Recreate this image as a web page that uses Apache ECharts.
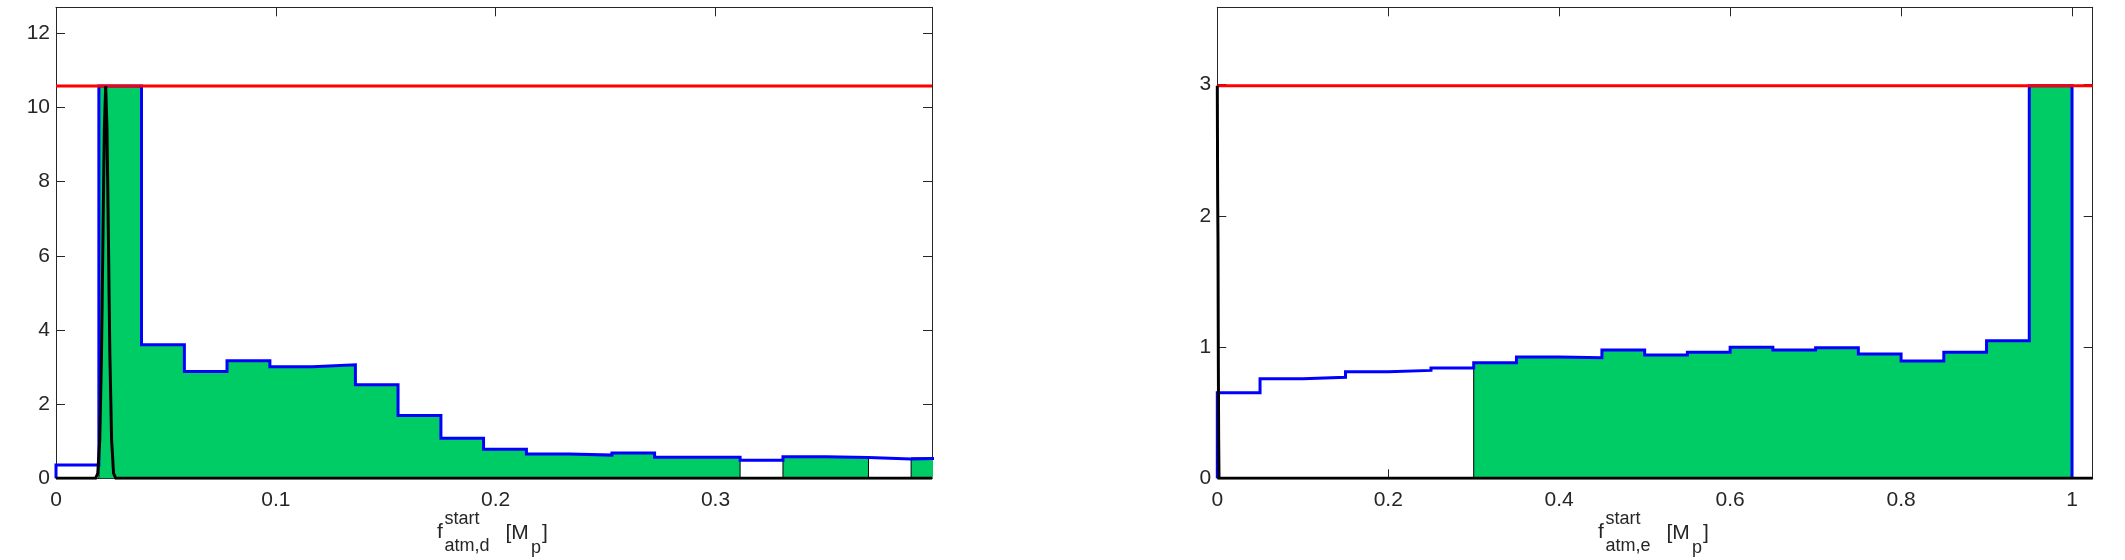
<!DOCTYPE html>
<html>
<head>
<meta charset="utf-8">
<title>f_atm start distributions</title>
<script src="https://cdn.jsdelivr.net/npm/echarts@6/dist/echarts.min.js"></script>
<style>
  html, body { margin: 0; padding: 0; background: #fff; }
  #chart { width: 2125px; height: 560px; }
</style>
</head>
<body>
<div id="chart"></div>
<script>
// ---- left panel: f_atm,d ----
const edgesD = [0, 0.0195, 0.0389, 0.0584, 0.0778, 0.0973, 0.1167, 0.1362, 0.1556, 0.1751, 0.1945,
  0.214, 0.2334, 0.2529, 0.2723, 0.2918, 0.3112, 0.3307, 0.3501, 0.3696, 0.389, 0.4085]
const histD = [0.36, 10.58, 3.6, 2.88, 3.17, 3.01, 3.06, 2.52, 1.69, 1.08, 0.78,
  0.655, 0.625, 0.68, 0.57, 0.57, 0.49, 0.58, 0.56, 0.52, 0.55]
const greenBinsD = [[1, 15], [17, 18], [20, 20]]   // first/last bin index of each filled run
const curveDx = [0, 0.018, 0.019, 0.0199, 0.0207, 0.0214, 0.022, 0.0226, 0.0232, 0.0238, 0.0245, 0.0253, 0.0262, 0.0272, 0.3985]
const curveDy = [0, 0, 0.13, 1.03, 3.33, 6.67, 9.43, 10.58, 9.43, 6.67, 3.33, 1.03, 0.13, 0, 0]
const peakD = 10.58
const xMaxD = 0.3985
const yMaxD = 12.7
const xTicksD = [0, 0.1, 0.2, 0.3]
const yTicksD = [0, 2, 4, 6, 8, 10, 12]

// ---- right panel: f_atm,e ----
const edgesE = [0, 0.05, 0.1, 0.15, 0.2, 0.25, 0.3, 0.35, 0.4, 0.45, 0.5,
  0.55, 0.6, 0.65, 0.7, 0.75, 0.8, 0.85, 0.9, 0.95, 1.0]
const histE = [0.652, 0.759, 0.769, 0.812, 0.822, 0.84, 0.88, 0.924, 0.919, 0.977,
  0.939, 0.96, 0.998, 0.977, 0.995, 0.947, 0.893, 0.96, 1.048, 2.99]
const greenBinsE = [[6, 19]]
const curveEx = [0, 0.0004, 0.0008, 0.0012, 0.0016, 0.002, 1.0242]
const curveEy = [2.99, 2.17, 1.83, 0.9, 0.3, 0, 0]
const peakE = 2.99
const xMaxE = 1.0242
const yMaxE = 3.588
const xTicksE = [0, 0.2, 0.4, 0.6, 0.8, 1]
const yTicksE = [0, 1, 2, 3]

const axisColor = '#262626'
const fontFamily = '"Liberation Sans", Arial, sans-serif'
const chart = echarts.init(document.getElementById('chart'))

// outline of a run of histogram bins, dropping to zero at both ends
function stepOutline(edges, hist, from, to) {
  const pts = [[edges[from], 0]]
  for (let i = from; i <= to; i++) {
    pts.push([edges[i], hist[i]], [edges[i + 1], hist[i]])
  }
  pts.push([edges[to + 1], 0])
  return pts
}

function lineSeries(idx, data, color, width, z, area) {
  return {
    type: 'line', xAxisIndex: idx * 2, yAxisIndex: idx * 2,
    data, showSymbol: false, symbol: 'none', silent: true, z,
    lineStyle: { color, width, join: 'miter' },
    areaStyle: area ? { color: area, opacity: 1 } : undefined
  }
}

function axesFor(idx, xMax, yMax, xTicks, yTicks) {
  const tick = (vals) => ({ inside: true, length: 9, customValues: vals, lineStyle: { color: axisColor, width: 1 } })
  const line = { onZero: false, lineStyle: { color: axisColor, width: 1 } }
  const label = (vals, show, extra) => Object.assign({
    show, customValues: vals, fontSize: 21, fontFamily, color: axisColor
  }, extra)
  const x = (position, show) => ({
    type: 'value', gridIndex: idx, position, min: 0, max: xMax,
    axisLine: line, axisTick: tick(xTicks), splitLine: { show: false },
    axisLabel: label(xTicks, show, { margin: 11 })
  })
  const y = (position, show) => ({
    type: 'value', gridIndex: idx, position, min: 0, max: yMax,
    axisLine: line, axisTick: tick(yTicks), splitLine: { show: false },
    axisLabel: label(yTicks, show, { margin: 6, padding: [10, 0, 0, 0] })
  })
  return { x: [x('bottom', true), x('top', false)], y: [y('left', true), y('right', false)] }
}

function panelSeries(idx, edges, hist, greenBins, cx, cy, peak, xMax) {
  const out = greenBins.map(([a, b]) => lineSeries(idx, stepOutline(edges, hist, a, b), '#000', 1, 1, '#00cc66'))
  out.push(lineSeries(idx, stepOutline(edges, hist, 0, hist.length - 1), '#0000ff', 3, 2))
  out.push(lineSeries(idx, [[0, peak], [xMax, peak]], '#ff0000', 3, 3))
  out.push(lineSeries(idx, cx.map((v, i) => [v, cy[i]]), '#000', 3, 4))
  return out
}

const axD = axesFor(0, xMaxD, yMaxD, xTicksD, yTicksD)
const axE = axesFor(1, xMaxE, yMaxE, xTicksE, yTicksE)

chart.setOption({
  animation: false,
  backgroundColor: '#fff',
  grid: [
    { left: 56, top: 7.3, width: 876, height: 471 },
    { left: 1217.3, top: 7.3, width: 875.4, height: 471 }
  ],
  xAxis: [...axD.x, ...axE.x],
  yAxis: [...axD.y, ...axE.y],
  series: [
    ...panelSeries(0, edgesD, histD, greenBinsD, curveDx, curveDy, peakD, xMaxD),
    ...panelSeries(1, edgesE, histE, greenBinsE, curveEx, curveEy, peakE, xMaxE)
  ]
})

/* axis titles: f^{start}_{atm,x} [M_p], placed under each panel's centre */
function axisTitle(idx, xMax, sub) {
  const [cx, y0] = chart.convertToPixel({ gridIndex: idx }, [xMax / 2, 0])
  const t = (text, x, y, size) => ({
    type: 'text', x, y, silent: true,
    style: { text, font: size + 'px ' + fontFamily, fill: axisColor, align: 'left', verticalAlign: 'middle' }
  })
  return {
    type: 'group', x: cx, y: y0,
    children: [
      t('f', -57, 54.3, 21),
      t('start', -49.5, 40.7, 18),
      t(sub, -49.5, 68.2, 18),
      t('[M', 11.5, 54.7, 21),
      t('p', 37, 69.8, 18),
      t(']', 48, 54.7, 21)
    ]
  }
}

chart.setOption({ graphic: [axisTitle(0, xMaxD, 'atm,d'), axisTitle(1, xMaxE, 'atm,e')] })
</script>
</body>
</html>
